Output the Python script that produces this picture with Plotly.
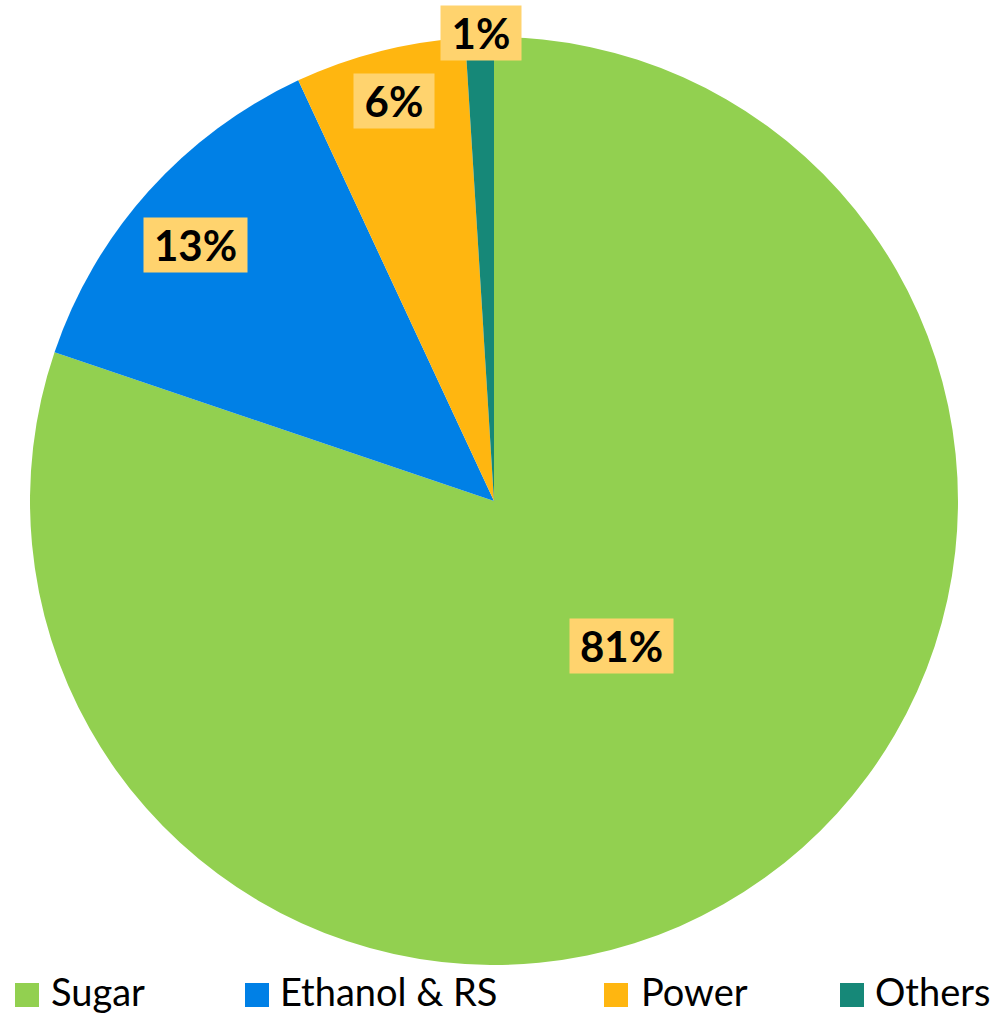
import plotly.graph_objects as go

categories = ["Sugar", "Ethanol & RS", "Power", "Others"]
values = [81, 13, 6, 1]
colors = ["#92D050", "#0080E6", "#FFB610", "#168878"]

# label box centres (pixels) and box widths
label_pos = [(621.5, 646), (195.5, 244.5), (394, 100.5), (481, 33.5)]
label_w = [103, 103, 80, 80]

W, H = 1006, 1015
def px(x): return x / W
def py(y): return 1 - y / H

fig = go.Figure()
fig.add_trace(go.Pie(
    labels=categories, values=values, sort=False, direction="clockwise",
    rotation=0, marker=dict(colors=colors, line=dict(width=0)),
    textinfo="none", showlegend=False,
    domain=dict(x=[px(30), px(958)], y=[py(965), py(37)]),
))

for (cx, cy), w, v in zip(label_pos, label_w, values):
    fig.add_annotation(x=px(cx), y=py(cy), xref="paper", yref="paper",
                       text=f"<b>{v}%</b>", showarrow=False,
                       font=dict(family="Lato", size=42, color="black"),
                       bgcolor="#FFD36E", width=w, height=54, borderpad=0,
                       xanchor="center", yanchor="middle")

# legend
leg_sq_x = [15, 245, 604, 840]
leg_txt_x = [50, 279, 640, 874]
for cat, col, sx, tx in zip(categories, colors, leg_sq_x, leg_txt_x):
    fig.add_shape(type="rect", xref="paper", yref="paper",
                  x0=px(sx), x1=px(sx + 24), y0=py(1007), y1=py(983),
                  fillcolor=col, line=dict(width=0))
    fig.add_annotation(x=px(tx), y=0, xref="paper", yref="paper",
                       text=cat, showarrow=False, xanchor="left", yanchor="bottom",
                       font=dict(family="Lato", size=38, color="black"),
                       borderpad=0)

fig.update_layout(width=W, height=H, margin=dict(l=0, r=0, t=0, b=0),
                  paper_bgcolor="white", plot_bgcolor="white")
fig.write_html("out.html")
